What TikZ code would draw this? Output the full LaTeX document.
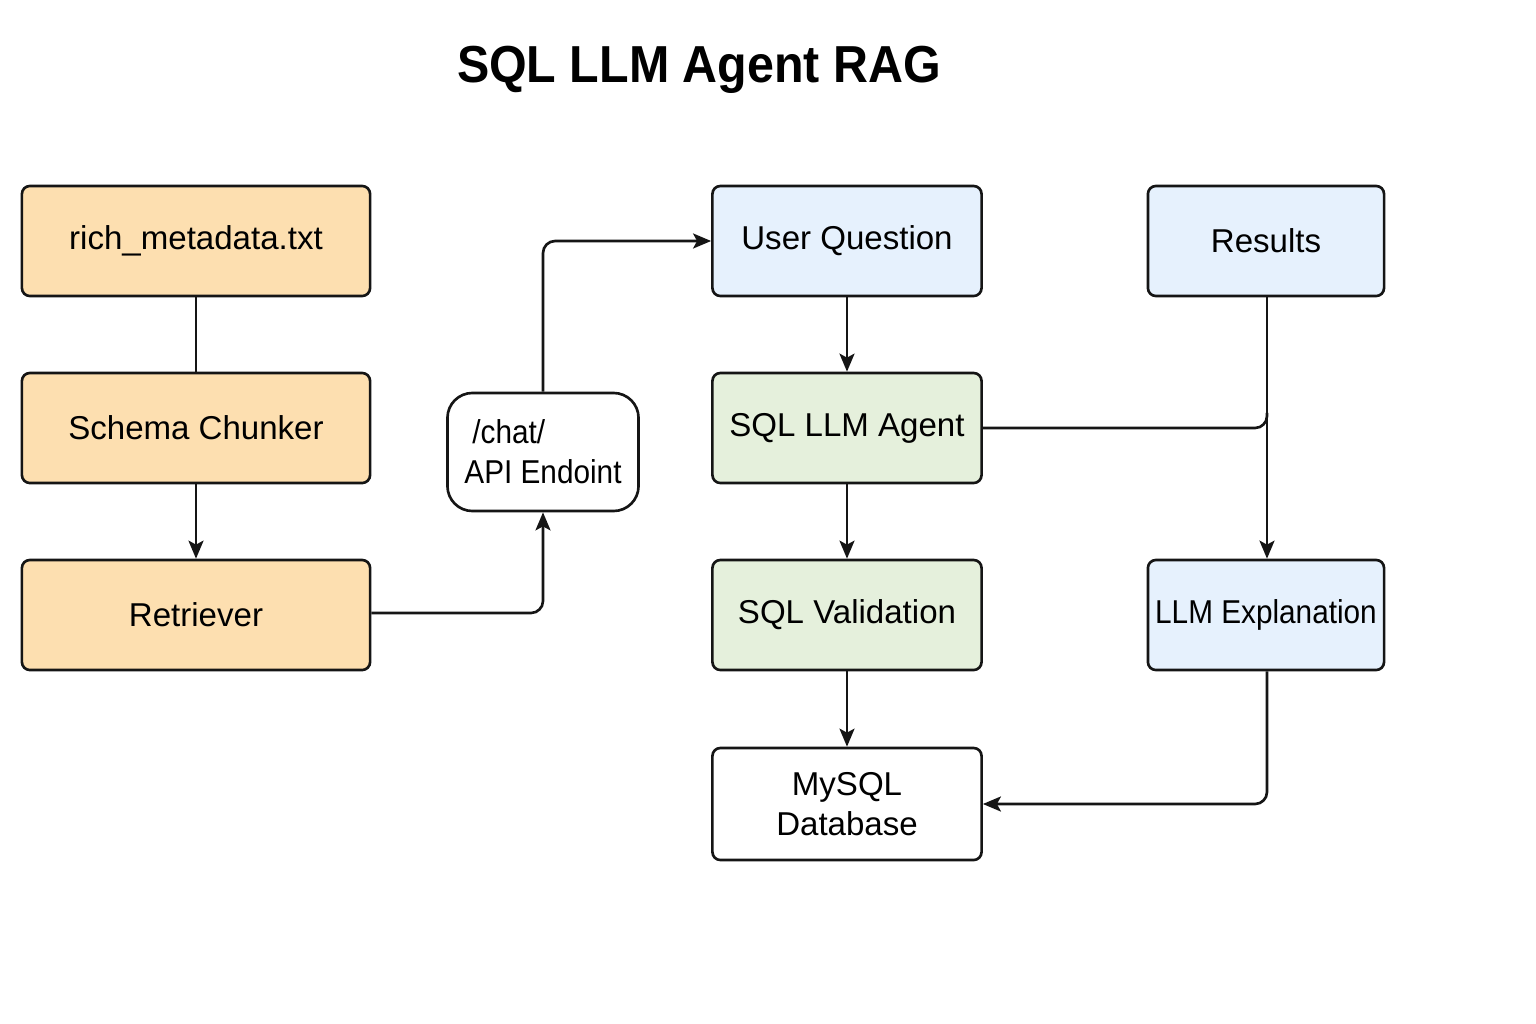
\documentclass[tikz,border=0pt]{standalone}
\usepackage{fontspec}
\setmainfont{Liberation Sans}
\usetikzlibrary{arrows.meta}
\definecolor{orangefill}{HTML}{FDDFB0}
\definecolor{bluefill}{HTML}{E6F1FD}
\definecolor{greenfill}{HTML}{E5F0DC}
\definecolor{ink}{HTML}{151515}
\tikzset{
  box/.style={draw=ink, line width=0.75pt, rounded corners=0.08cm, minimum height=1.1cm, inner sep=0pt, font=\fontsize{9.4}{11.5}\selectfont, text=black},
  orangebox/.style={box, fill=orangefill, minimum width=3.48cm},
  greenbox/.style={box, fill=greenfill, minimum width=2.69cm},
  bluebox/.style={box, fill=bluefill, minimum width=2.69cm},
  resbox/.style={box, fill=bluefill, minimum width=2.36cm},
  whitebox/.style={box, fill=white},
  conn/.style={draw=ink, line width=0.75pt, rounded corners=0.12cm},
  arr/.style={conn, -{Stealth[length=0.18cm, width=0.15cm, inset=0.04cm]}}
}
\begin{document}
\begin{tikzpicture}[x=0.01cm, y=-0.01cm]
\useasboundingbox (0,0) rectangle (1536,1024);
\fill[white] (0,0) rectangle (1536,1024);
\node (title) at (699,70) {\fontsize{14.8}{17}\selectfont\bfseries\scalebox{0.93}[1]{SQL LLM Agent RAG}};

\node[orangebox] (rich) at (196,241) {\raisebox{-0.03cm}{rich\_metadata.txt}};
\node[orangebox] (chunk) at (196,428) {Schema Chunker};
\node[orangebox] (retr) at (196,615) {Retriever};

\node[whitebox, rounded corners=0.25cm, minimum width=1.91cm, minimum height=1.18cm, align=left, font=\fontsize{9.4}{11.3}\selectfont] (chat) at (543,452) {\hspace*{0.08cm}\scalebox{0.9}[1]{/chat/}\\\scalebox{0.9}[1]{API Endoint}};

\node[bluebox] (uq) at (847,241) {\raisebox{-0.03cm}{User Question}};
\node[greenbox] (agent) at (847,428) {\raisebox{-0.03cm}{SQL LLM Agent}};
\node[greenbox] (valid) at (847,615) {SQL Validation};
\node[whitebox, minimum width=2.69cm, minimum height=1.12cm, align=center] (db) at (847,804) {MySQL\\Database};

\node[resbox] (res) at (1266,241) {Results};
\node[resbox] (expl) at (1266,615) {\scalebox{0.9}[1]{LLM Explanation}};

\coordinate (rescol) at (1267,428);

\draw[conn] (rich) -- (chunk);
\draw[arr] (chunk) -- (retr);
\draw[arr] (retr.east |- 0,613) -- (543,613) -- (chat.south);
\draw[arr] (chat.north) -- (543,241) -- (uq.west);
\draw[arr] (uq) -- (agent);
\draw[arr] (agent) -- (valid);
\draw[arr] (valid) -- (db);
\draw[arr] (res.south -| rescol) -- (expl.north -| rescol);
\draw[conn] (agent.east) -- (rescol) -- ([yshift=0.15cm]rescol);
\draw[arr] (expl.south -| rescol) -- (1267,804) -- (db.east);
\end{tikzpicture}
\end{document}
